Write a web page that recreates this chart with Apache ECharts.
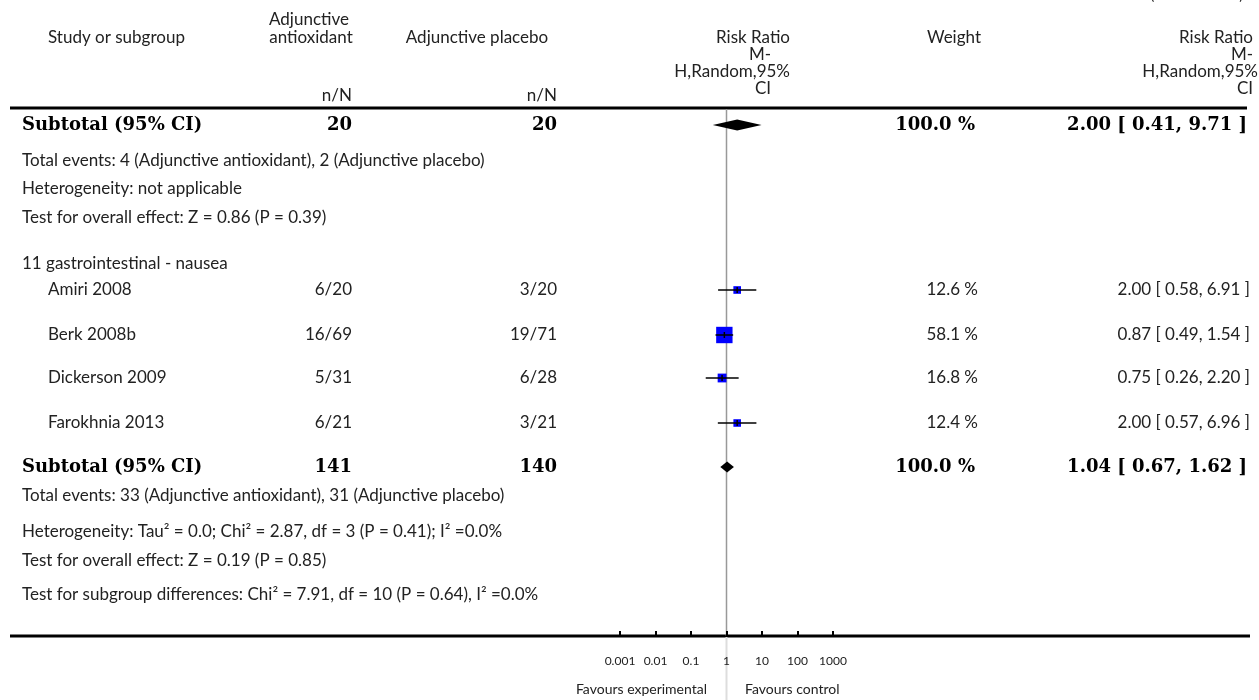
<!DOCTYPE html>
<html><head><meta charset="utf-8">
<script src="https://cdn.jsdelivr.net/npm/echarts@6/dist/echarts.min.js"></script>
<style>html,body{margin:0;padding:0;background:#fff;}#c{width:1259px;height:700px;}</style>
</head><body><div id="c"></div>
<script>
// ---------- data ----------
const studies = ['Amiri 2008', 'Berk 2008b', 'Dickerson 2009', 'Farokhnia 2013'];
const expEvents = [6, 16, 5, 6];
const expTotal = [20, 69, 31, 21];
const ctrlEvents = [3, 19, 6, 3];
const ctrlTotal = [20, 71, 28, 21];
const riskRatio = [2.00, 0.87, 0.75, 2.00];
const ciLow = [0.58, 0.49, 0.26, 0.57];
const ciHigh = [6.91, 1.54, 2.20, 6.96];
const weights = [12.6, 58.1, 16.8, 12.4];

const subtotalExp = [20, 141];
const subtotalCtrl = [20, 140];
const subtotalRR = [2.00, 1.04];
const subtotalLow = [0.41, 0.67];
const subtotalHigh = [9.71, 1.62];
const subtotalWeight = [100.0, 100.0];

const groupTitle = '11 gastrointestinal - nausea';
const notesFirst = [
  'Total events: 4 (Adjunctive antioxidant), 2 (Adjunctive placebo)',
  'Heterogeneity: not applicable',
  'Test for overall effect: Z = 0.86 (P = 0.39)'
];
const notesSecond = [
  'Total events: 33 (Adjunctive antioxidant), 31 (Adjunctive placebo)',
  'Heterogeneity: Tau² = 0.0; Chi² = 2.87, df = 3 (P = 0.41); I² =0.0%',
  'Test for overall effect: Z = 0.19 (P = 0.85)',
  'Test for subgroup differences: Chi² = 7.91, df = 10 (P = 0.64), I² =0.0%'
];
const tickValues = [0.001, 0.01, 0.1, 1, 10, 100, 1000];
const tickLabels = ['0.001', '0.01', '0.1', '1', '10', '100', '1000'];

// ---------- layout ----------
const LAY = {
  headerLine: 108, axisY: 636,
  subY: [125, 467], studyY: [290, 335, 378, 423],
  notesFirstY: [161, 189, 218], groupY: 264, notesSecondY: [496, 532, 561, 595],
  colLeft: 22, colStudy: 48, colExp: 352, colCtrl: 557, colWeight: 978, colRR: 1250
};
const FONT = 'Lato';
const SERIF = 'DejaVu Serif';
const TXT = '#222';

function T(text, x, y, align, extra) {
  const st = Object.assign({
    text: text, x: x, y: y, fill: TXT,
    fontFamily: FONT, fontSize: 17, fontWeight: 'normal',
    align: align, textAlign: align, verticalAlign: 'middle', textVerticalAlign: 'middle'
  }, extra || {});
  return { type: 'text', silent: true, z: 10, style: st };
}
const BOLD = { fontFamily: SERIF, fontSize: 18, fontWeight: 'bold', fill: '#000' };

const fmtRR = (r, l, h) => r.toFixed(2) + ' [ ' + l.toFixed(2) + ', ' + h.toFixed(2) + ' ]';

const g = [];
// horizontal rules
g.push({ type: 'line', silent: true, shape: { x1: 10, y1: LAY.headerLine, x2: 1247, y2: LAY.headerLine }, style: { stroke: '#000', lineWidth: 3 } });
g.push({ type: 'line', silent: true, shape: { x1: 10, y1: LAY.axisY, x2: 1250, y2: LAY.axisY }, style: { stroke: '#000', lineWidth: 3 } });

// header
g.push(T('(. . . Continued)', 1243, -5, 'right', { fontSize: 14 }));
g.push(T('Study or subgroup', 48, 38, 'left'));
g.push(T('Adjunctive', 309, 20, 'center'));
g.push(T('antioxidant', 311, 38, 'center'));
g.push(T('Adjunctive placebo', 477, 38, 'center'));
g.push(T('n/N', LAY.colExp, 96, 'right'));
g.push(T('n/N', LAY.colCtrl, 96, 'right'));
g.push(T('Risk Ratio', 790, 38, 'right'));
g.push(T('M-', 771, 55, 'right'));
g.push(T('H,Random,95%', 790, 72, 'right'));
g.push(T('CI', 771, 89, 'right'));
g.push(T('Weight', 954, 38, 'center'));
g.push(T('Risk Ratio', 1253, 38, 'right'));
g.push(T('M-', 1253, 55, 'right'));
g.push(T('H,Random,95%', 1258, 72, 'right'));
g.push(T('CI', 1253, 89, 'right'));

// subtotals
for (let k = 0; k < 2; k++) {
  const y = LAY.subY[k];
  g.push(T('Subtotal (95% CI)', LAY.colLeft, y, 'left', BOLD));
  g.push(T(String(subtotalExp[k]), LAY.colExp, y, 'right', BOLD));
  g.push(T(String(subtotalCtrl[k]), LAY.colCtrl, y, 'right', BOLD));
  g.push(T(subtotalWeight[k].toFixed(1) + ' %', 975, y, 'right', BOLD));
  g.push(T(fmtRR(subtotalRR[k], subtotalLow[k], subtotalHigh[k]), 1247, y, 'right', BOLD));
}
notesFirst.forEach((t, i) => g.push(T(t, LAY.colLeft, LAY.notesFirstY[i], 'left')));
g.push(T(groupTitle, LAY.colLeft, LAY.groupY, 'left'));
studies.forEach((s, i) => {
  const y = LAY.studyY[i];
  g.push(T(s, LAY.colStudy, y, 'left'));
  g.push(T(expEvents[i] + '/' + expTotal[i], LAY.colExp, y, 'right'));
  g.push(T(ctrlEvents[i] + '/' + ctrlTotal[i], LAY.colCtrl, y, 'right'));
  g.push(T(weights[i].toFixed(1) + ' %', LAY.colWeight, y, 'right'));
  g.push(T(fmtRR(riskRatio[i], ciLow[i], ciHigh[i]), LAY.colRR, y, 'right'));
});
notesSecond.forEach((t, i) => g.push(T(t, LAY.colLeft, LAY.notesSecondY[i], 'left')));
g.push(T('Favours experimental', 707, 689, 'right', { fontSize: 14 }));
g.push(T('Favours control', 745, 689, 'left', { fontSize: 14 }));

const chart = echarts.init(document.getElementById('c'), null, { renderer: 'canvas' });
chart.setOption({
  animation: false,
  backgroundColor: '#fff',
  grid: { left: 620, width: 213, top: LAY.headerLine, height: LAY.axisY - LAY.headerLine },
  xAxis: {
    type: 'log', logBase: 10, min: tickValues[0], max: tickValues[tickValues.length - 1], z: 5,
    axisLine: { show: false },
    axisTick: { show: true, inside: true, length: 5, lineStyle: { color: '#000', width: 2 } },
    splitLine: { show: false },
    axisLabel: {
      margin: 19, fontSize: 12, color: TXT, fontFamily: FONT,
      formatter: v => { const i = tickValues.findIndex(t => Math.abs(Math.log10(t) - Math.log10(v)) < 1e-6); return i >= 0 ? tickLabels[i] : ''; }
    }
  },
  yAxis: { type: 'value', inverse: true, min: LAY.headerLine, max: LAY.axisY, show: false },
  series: [
    { // line of no effect
      type: 'custom', coordinateSystem: 'cartesian2d', silent: true, z: 1,
      data: [[1, LAY.headerLine]],
      renderItem: (p, api) => {
        const a = api.coord([api.value(0), LAY.headerLine]);
        const b = api.coord([api.value(0), LAY.axisY]);
        return { type: 'group', children: [
          { type: 'line', shape: { x1: a[0], y1: a[1] + 1, x2: b[0], y2: b[1] }, style: { stroke: '#999', lineWidth: 1.5 } },
          { type: 'line', shape: { x1: b[0], y1: b[1] + 1, x2: b[0], y2: 700 }, style: { stroke: '#ddd', lineWidth: 2 } }
        ] };
      }
    },
    { // studies
      type: 'custom', coordinateSystem: 'cartesian2d', silent: true, z: 3,
      data: studies.map((s, i) => [riskRatio[i], ciLow[i], ciHigh[i], weights[i], LAY.studyY[i]]),
      renderItem: (p, api) => {
        const y = api.value(4);
        const c = api.coord([api.value(0), y]);
        const l = api.coord([api.value(1), y]);
        const h = api.coord([api.value(2), y]);
        const s = 2.15 * Math.sqrt(api.value(3));
        return { type: 'group', children: [
          { type: 'rect', shape: { x: c[0] - s / 2, y: c[1] - s / 2, width: s, height: s }, style: { fill: '#0000ff' } },
          { type: 'line', shape: { x1: l[0], y1: c[1], x2: h[0], y2: c[1] }, style: { stroke: '#000', lineWidth: 1.5 } },
          { type: 'line', shape: { x1: c[0], y1: c[1] - 3, x2: c[0], y2: c[1] + 3 }, style: { stroke: '#000', lineWidth: 1.5 } }
        ] };
      }
    },
    { // subtotal diamonds
      type: 'custom', coordinateSystem: 'cartesian2d', silent: true, z: 3,
      data: subtotalRR.map((r, k) => [r, subtotalLow[k], subtotalHigh[k], LAY.subY[k]]),
      renderItem: (p, api) => {
        const y = api.value(3);
        const c = api.coord([api.value(0), y]);
        const l = api.coord([api.value(1), y]);
        const h = api.coord([api.value(2), y]);
        return { type: 'polygon', shape: { points: [[l[0], c[1]], [c[0], c[1] - 5.5], [h[0], c[1]], [c[0], c[1] + 5.5]] }, style: { fill: '#000' } };
      }
    }
  ],
  graphic: g
});
</script></body></html>
